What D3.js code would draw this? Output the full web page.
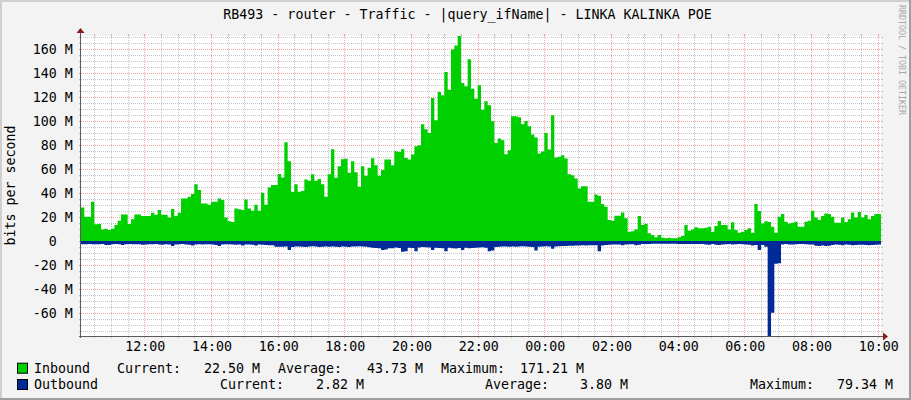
<!DOCTYPE html>
<html><head><meta charset="utf-8">
<script src="https://cdn.jsdelivr.net/npm/d3@7"></script>
<style>html,body{margin:0;padding:0;background:#f3f3f3;}svg{display:block;}</style>
</head><body>
<svg id="c" width="911" height="400"></svg>
<script>
// ---- data ----
const titleText = "RB493 - router - Traffic - |query_ifName| - LINKA KALINKA POE";
const yAxisLabel = "bits per second";
const startTime = "2024-01-01T10:06:00";
const stepMinutes = 6;
const inbound = [ // Mbit/s
28,20.3,20.3,32.8,14,14.2,9.7,10.3,9.2,10.3,13.3,16.9,22.2,22.2,14.2,18.1,22.2,22.2,20.8,20.8,
20.8,23.6,21.9,25.8,21.9,21.9,19.7,26.7,20.8,23.6,35.6,35.6,36.9,39.2,47.5,42.5,31.4,31.4,30.3,32.8,
32.8,35.6,34.2,19.7,16.4,15.8,27.2,26.5,25.8,34.7,27.2,25.3,30.3,25.3,40.3,30.3,44.7,46.7,46.7,56,
53,82.5,66.7,41.1,47.5,41.1,41.7,51.4,50.3,55.8,50.3,51.7,47.5,36.9,55.8,76.7,52.8,62.5,68.3,68.6,
56.9,66.7,57.5,45.3,62.5,54.4,61.1,69.2,63.3,54.4,59.2,68.1,68.1,63.3,75,74.4,76.7,69.4,68.1,72.2,
79.2,80,97.5,93.3,90.3,119.4,100.8,124.4,121.7,141.1,126.4,160,163.3,171.21,131.9,129.2,151.7,127.2,118.9,130,
109.7,116.7,113.3,100,81.9,85.6,84.2,72.5,75.8,104.2,104.2,103.3,97.5,100.3,95.8,89,86.4,73.1,74.7,90.3,
76.4,105,69.7,70.3,71.7,68.9,55.8,55,52.2,43.9,45.8,45.8,32.8,32.8,38.9,37.8,30.8,28.6,17.5,16.9,
21.1,21.1,23.9,18.9,7.8,8.1,9.7,20.8,13.3,14.4,6.4,5,3.1,5,2.8,2.2,2.8,2.2,2.2,3.1,
4.2,13.3,8.6,9.7,11.4,10.6,10.6,11.1,11.9,7.8,12.5,16.7,13.3,13.3,9.7,15.6,9.2,6.9,7.8,9.2,
10.6,6.9,30.8,25,14.7,16.4,15.8,11.9,6.9,20.3,22.5,16.1,14.7,15.3,16.1,11.9,11.9,16.1,16.9,25.3,
19.7,17.5,20.8,23,22.5,20.3,15.3,15.3,19.7,15.8,18.1,23.9,19.7,24.2,19.7,21.7,18.1,20.8,22.5,22.5
];
const outbound = [ // Mbit/s, drawn below zero
2.8,2.8,2.6,2.8,2.8,2.8,2.6,3.4,3.4,2.8,2.6,2.8,3.4,2.8,2.6,2.8,2.8,2.8,3.2,3.0,
2.8,2.8,2.6,3.0,3.2,2.8,3.0,4.2,3.0,2.8,2.6,3.0,3.2,3.8,3.0,2.8,3.0,2.8,2.8,3.0,
3.4,4.2,3.0,2.8,2.8,3.0,3.2,3.0,3.8,3.0,3.0,3.2,3.8,3.0,3.2,3.4,3.6,3.6,4.7,4.7,
4.7,4.5,7.5,5.0,4.5,4.5,4.8,5.0,4.6,4.4,4.6,5.0,4.8,4.6,4.8,4.5,4.7,5.0,4.6,4.8,
5.0,4.6,4.6,4.4,4.5,4.8,5.2,5.6,5.8,6.0,7.5,7.2,6.0,6.0,5.4,5.8,8.9,8.5,5.6,5.8,
8.5,5.4,5.0,5.2,5.4,7.5,5.6,5.8,6.0,8.5,5.6,6.0,6.2,5.8,7.5,5.6,6.0,5.8,5.6,5.4,
5.2,5.6,8.5,8.0,5.0,4.8,4.6,4.6,4.8,4.6,4.8,4.6,4.4,4.6,4.8,5.0,8.0,4.8,4.6,4.4,
4.6,6.5,4.6,4.4,4.2,4.2,4.0,4.0,3.8,3.8,3.6,3.8,3.6,3.6,3.6,8.5,3.8,3.4,3.2,3.0,
3.0,3.0,3.6,3.0,2.8,2.8,3.6,3.2,2.6,2.4,2.4,2.2,2.2,2.2,2.2,2.2,2.2,2.2,2.2,2.4,
2.6,2.6,2.4,2.4,2.6,2.6,2.6,3.0,3.2,2.6,3.2,3.4,3.0,2.8,2.6,3.0,2.8,2.6,2.8,3.0,
3.2,3.8,3.4,7.5,3.4,4.7,79.34,60,19,18.5,3.0,2.6,3.0,3.0,2.8,2.6,2.6,2.8,3.0,3.0,
4.0,4.2,3.8,4.2,4.0,3.4,3.0,3.2,3.6,3.0,3.2,3.6,3.4,3.2,3.2,3.4,3.6,3.4,3.2,2.82
];
const yTicks = [-60,-40,-20,0,20,40,60,80,100,120,140,160];
const legendRows = [
  {name:"Inbound", color:"#00CF00", items:[["Current:",117],["22.50 M",204],["Average:",278],["43.73 M",367],["Maximum:",441],["171.21 M",520]]},
  {name:"Outbound", color:"#002A97", items:[["Current:",220],["2.82 M",316],["Average:",485],["3.80 M",580],["Maximum:",750],["79.34 M",837]]}
];
const yMin = -79.34, yMax = 171.21;

// ---- layout ----
const W = 911, H = 400;
const L = 81, R = 881, T = 36, B = 336;
const FONT = "'DejaVu Sans Mono', monospace";
const svg = d3.select("#c");

svg.append("rect").attr("x",0).attr("y",0).attr("width",W).attr("height",H).attr("fill","#f3f3f3");
// 3D frame
svg.append("path").attr("d",`M0,0H${W}V2H2V${H}H0Z`).attr("fill","#cfcfcf");
svg.append("path").attr("d",`M${W},${H}H0V${H-2}H${W-2}V0H${W}Z`).attr("fill","#9e9e9e");

const t0 = new Date(startTime);
const times = inbound.map((_,i)=> new Date(t0.getTime() + i*stepMinutes*60000));
const tEnd = new Date(t0.getTime() + inbound.length*stepMinutes*60000);
const x = d3.scaleTime().domain([t0, new Date(t0.getTime()+24*3600000)]).range([L,R]);
const y = d3.scaleLinear().domain([yMin,yMax]).range([B,T]);

svg.append("rect").attr("x",L).attr("y",T).attr("width",R-L).attr("height",B-T).attr("fill","#ffffff");

// grid
const gridG = svg.append("g");
const minorCol = "rgba(150,150,150,0.55)", majorCol = "rgba(240,90,90,0.55)";
const dayStart = new Date(t0); dayStart.setHours(10,0,0,0);
const minorTimes = d3.timeMinute.every(30).range(t0, x.domain()[1]);
const majorTimes = d3.timeHour.every(2).range(t0, x.domain()[1]);
function vline(t,col){
  const xx = Math.round(x(t))+0.5;
  gridG.append("line").attr("x1",xx).attr("x2",xx).attr("y1",T).attr("y2",B)
    .attr("stroke",col).attr("stroke-dasharray","1,1");
  gridG.append("line").attr("x1",xx).attr("x2",xx).attr("y1",T-2).attr("y2",T).attr("stroke",col);
  gridG.append("line").attr("x1",xx).attr("x2",xx).attr("y1",B).attr("y2",B+2).attr("stroke",col);
}
function hline(v,col){
  const yy = Math.round(y(v))+0.5;
  gridG.append("line").attr("x1",L).attr("x2",R).attr("y1",yy).attr("y2",yy)
    .attr("stroke",col).attr("stroke-dasharray","1,1");
  gridG.append("line").attr("x1",L-2).attr("x2",L).attr("y1",yy).attr("y2",yy).attr("stroke",col);
  gridG.append("line").attr("x1",R).attr("x2",R+2).attr("y1",yy).attr("y2",yy).attr("stroke",col);
}
minorTimes.forEach(t=>{ if(t.getMinutes()!==0 || t.getHours()%2!==0) vline(t,minorCol); });
d3.range(-75,171,5).forEach(v=>{ if(v%20!==0) hline(v,minorCol); });
majorTimes.forEach(t=>{ if(t.getHours()%2===0 && t.getMinutes()===0) vline(t,majorCol); });
yTicks.forEach(v=>hline(v,majorCol));

// areas (step)
const ptsIn = inbound.map((v,i)=>({t:times[i],v})).concat([{t:tEnd,v:inbound[inbound.length-1]}]);
const ptsOut = outbound.map((v,i)=>({t:times[i],v:-v})).concat([{t:tEnd,v:-outbound[outbound.length-1]}]);
const area = d3.area().curve(d3.curveStepAfter).x(d=>x(d.t)).y0(y(0)).y1(d=>y(d.v));
svg.append("path").datum(ptsIn).attr("d",area).attr("fill","#00CF00");
svg.append("path").datum(ptsOut).attr("d",area).attr("fill","#002A97");

// axes
svg.append("line").attr("x1",L-2).attr("x2",R+3).attr("y1",B+0.5).attr("y2",B+0.5).attr("stroke","#5a5a5a");
svg.append("line").attr("x1",L+0.5-1).attr("x2",L+0.5-1).attr("y1",T-3).attr("y2",B+2).attr("stroke","#5a5a5a");
svg.append("path").attr("d",`M${R+2},${B-3.5}L${R+7},${B+0.5}L${R+2},${B+4.5}Z`).attr("fill","#8b1a1a");
svg.append("path").attr("d",`M${L-4.5},${T-3}L${L-0.5},${T-8}L${L+3.5},${T-3}Z`).attr("fill","#8b1a1a");

// tick labels
const txt = svg.append("g").attr("font-family",FONT).attr("font-size","13.3px").attr("fill","#000");
yTicks.forEach(v=>{
  const lab = v===0 ? "0" : (v+" M");
  txt.append("text").attr("x", v===0 ? 56.7 : 72.7).attr("y", y(v)+4.7)
    .attr("text-anchor","end").text(lab);
});
majorTimes.forEach(t=>{
  if(x(t) < L+10) return;
  txt.append("text").attr("x",x(t)+1).attr("y",350.7).attr("text-anchor","middle").text(d3.timeFormat("%H:%M")(t));
});
// title
txt.append("text").attr("x",467.5).attr("y",19).attr("text-anchor","middle").text(titleText);
// y axis label
txt.append("text").attr("transform","translate(15,185.5) rotate(-90)").attr("text-anchor","middle").text(yAxisLabel);
// watermark
svg.append("text").attr("transform","translate(899,5) rotate(90)").attr("font-family",FONT)
  .attr("font-size","8.3px").attr("fill","#a8a8a8").text("RRDTOOL / TOBI OETIKER");

// legend
legendRows.forEach((r,k)=>{
  const by = 372.7 + k*16.3;
  svg.append("rect").attr("x",17.5).attr("y",by-9.5).attr("width",10).attr("height",10)
    .attr("fill",r.color).attr("stroke","#000").attr("stroke-width",1);
  txt.append("text").attr("x",34).attr("y",by).text(r.name);
  r.items.forEach(([s,xx])=> txt.append("text").attr("x",xx).attr("y",by).text(s));
});
</script>
</body></html>
